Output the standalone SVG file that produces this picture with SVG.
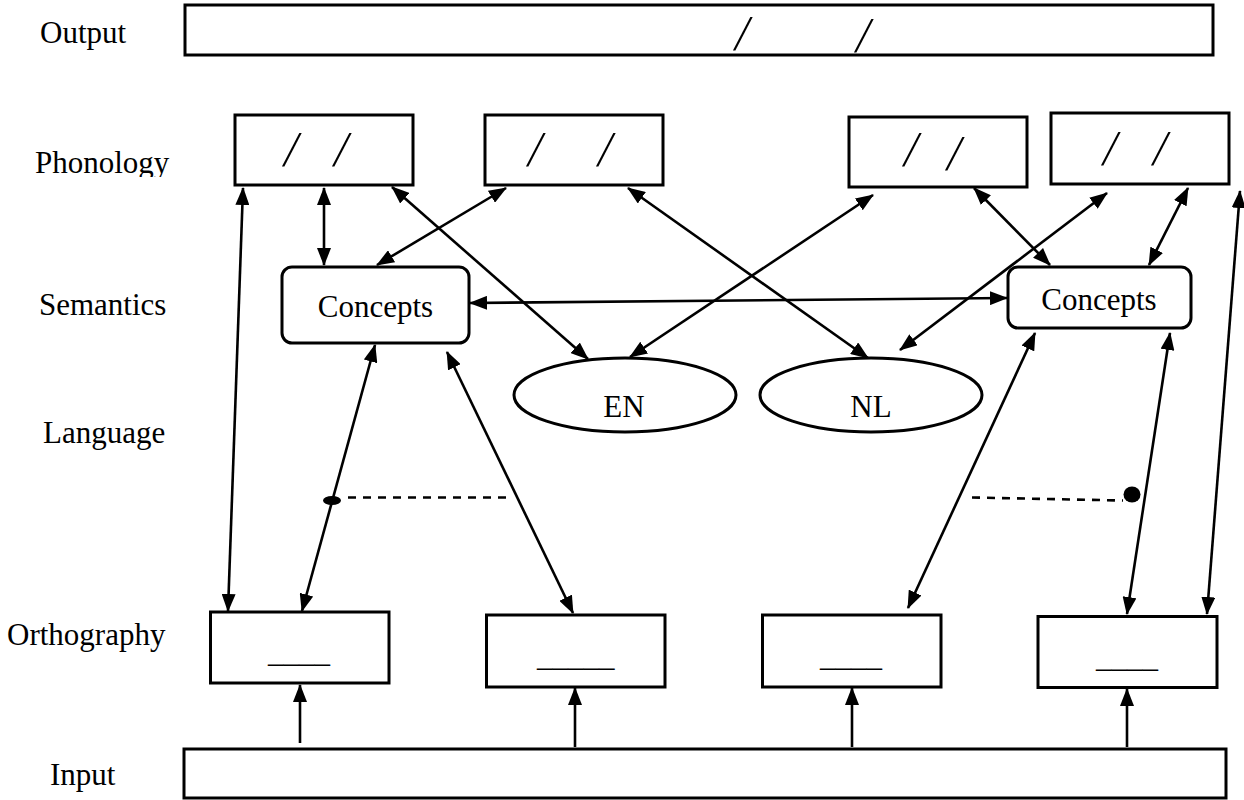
<svg xmlns="http://www.w3.org/2000/svg" width="1244" height="800" viewBox="0 0 1244 800">
  <style>
    .lbl { font-family: "Liberation Serif", "Times New Roman", serif; font-size: 31px; fill: #000; }
    .mid { text-anchor: middle; }
    .slash { font-family: "Liberation Serif", "Times New Roman", serif; font-size: 50px; fill: #000; text-anchor: middle; }
    .box { fill: #fff; stroke: #000; stroke-width: 3; }
    .link { fill: none; stroke: #000; stroke-width: 2.6; marker-start: url(#head); marker-end: url(#head); }
    .feed { fill: none; stroke: #000; stroke-width: 2.6; marker-end: url(#head); }
    .dash { fill: none; stroke: #000; stroke-width: 2.6; stroke-dasharray: 8 7; }
  </style>
  <defs>
    <marker id="head" viewBox="0 0 18 14" refX="17" refY="7" markerWidth="18" markerHeight="14" markerUnits="userSpaceOnUse" orient="auto-start-reverse">
      <path d="M0,0 L18,7 L0,14 z" fill="#000"/>
    </marker>
    <clipPath id="rowClip">
      <rect x="0" y="120" width="200" height="57"/>
    </clipPath>
  </defs>
  <rect width="1244" height="800" fill="#fff"/>

  <!-- row labels -->
  <g id="labels">
    <text class="lbl" x="40" y="43">Output</text>
    <text class="lbl" x="35" y="173" clip-path="url(#rowClip)">Phonology</text>
    <text class="lbl" x="39" y="315">Semantics</text>
    <text class="lbl" x="43" y="443">Language</text>
    <text class="lbl" x="7" y="645">Orthography</text>
    <text class="lbl" x="50" y="785">Input</text>
  </g>

  <!-- output layer -->
  <g id="output">
    <rect class="box" x="185" y="5" width="1028" height="50"/>
    <text class="slash" transform="translate(740 50) skewX(-10)">/</text>
    <text class="slash" transform="translate(861 52) skewX(-10)">/</text>
  </g>

  <!-- phonology layer -->
  <g id="phon1">
    <rect class="box" x="235" y="115" width="178" height="70"/>
    <text class="slash" transform="translate(289 166) skewX(-10)">/</text>
    <text class="slash" transform="translate(339 166) skewX(-10)">/</text>
  </g>
  <g id="phon2">
    <rect class="box" x="485" y="115" width="178" height="70"/>
    <text class="slash" transform="translate(533 166) skewX(-10)">/</text>
    <text class="slash" transform="translate(603 166) skewX(-10)">/</text>
  </g>
  <g id="phon3">
    <rect class="box" x="849" y="117" width="178" height="70"/>
    <text class="slash" transform="translate(909 166) skewX(-10)">/</text>
    <text class="slash" transform="translate(952 170) skewX(-10)">/</text>
  </g>
  <g id="phon4">
    <rect class="box" x="1051" y="113" width="178" height="71"/>
    <text class="slash" transform="translate(1108 165) skewX(-10)">/</text>
    <text class="slash" transform="translate(1158 165) skewX(-10)">/</text>
  </g>

  <!-- semantics layer -->
  <g id="conceptsLeft">
    <rect class="box" x="282" y="267" width="187" height="76" rx="10" ry="10"/>
    <text class="lbl mid" x="375.5" y="317">Concepts</text>
  </g>
  <g id="conceptsRight">
    <rect class="box" x="1008" y="267" width="183" height="61" rx="10" ry="10"/>
    <text class="lbl mid" x="1099" y="310">Concepts</text>
  </g>

  <!-- language nodes -->
  <g id="langEN">
    <ellipse class="box" cx="625" cy="395" rx="111" ry="37"/>
    <text class="lbl mid" x="624" y="417">EN</text>
  </g>
  <g id="langNL">
    <ellipse class="box" cx="871" cy="395" rx="111" ry="37"/>
    <text class="lbl mid" x="871" y="417">NL</text>
  </g>

  <!-- orthography layer -->
  <g id="orth1">
    <rect class="box" x="210.5" y="612" width="178.5" height="71"/>
    <text class="lbl" x="268" y="662">____</text>
  </g>
  <g id="orth2">
    <rect class="box" x="486.5" y="615" width="178.5" height="72"/>
    <text class="lbl" x="537" y="666">_____</text>
  </g>
  <g id="orth3">
    <rect class="box" x="762.5" y="615" width="178.5" height="72"/>
    <text class="lbl" x="820" y="666">____</text>
  </g>
  <g id="orth4">
    <rect class="box" x="1038" y="616.5" width="179" height="71"/>
    <text class="lbl" x="1096" y="667">____</text>
  </g>

  <!-- input layer -->
  <g id="input">
    <rect class="box" x="184" y="749" width="1042" height="49"/>
  </g>

  <!-- connectors -->
  <g id="connectors">
    <line class="link" x1="243" y1="188" x2="228" y2="611"/>
    <line class="link" x1="324" y1="188" x2="324" y2="265"/>
    <line class="link" x1="392" y1="187" x2="588" y2="359"/>
    <line class="link" x1="506" y1="188" x2="377" y2="265"/>
    <line class="link" x1="628" y1="188" x2="868" y2="358"/>
    <line class="link" x1="873" y1="195" x2="630" y2="357"/>
    <line class="link" x1="974" y1="188" x2="1050" y2="265"/>
    <line class="link" x1="1107" y1="193" x2="900" y2="350"/>
    <line class="link" x1="1188" y1="188" x2="1149" y2="265"/>
    <line class="link" x1="1240" y1="191" x2="1207" y2="614"/>
    <line class="link" x1="470" y1="303" x2="1007" y2="298"/>
    <line class="link" x1="375" y1="345" x2="302" y2="611"/>
    <line class="link" x1="447" y1="352" x2="573" y2="613"/>
    <line class="link" x1="1035" y1="333" x2="908" y2="608"/>
    <line class="link" x1="1170" y1="333" x2="1127" y2="614"/>

    <line class="feed" x1="300" y1="743" x2="300" y2="685"/>
    <line class="feed" x1="575" y1="747" x2="575" y2="688"/>
    <line class="feed" x1="852" y1="747" x2="852" y2="688"/>
    <line class="feed" x1="1127" y1="747" x2="1127" y2="689"/>

    <line class="dash" x1="348" y1="497.5" x2="510" y2="497.5"/>
    <ellipse cx="332" cy="500.5" rx="9" ry="4.5" fill="#000"/>
    <line class="dash" x1="972" y1="497.5" x2="1123" y2="500.5"/>
    <ellipse cx="1132" cy="494.5" rx="8.5" ry="8" fill="#000"/>
  </g>
</svg>
